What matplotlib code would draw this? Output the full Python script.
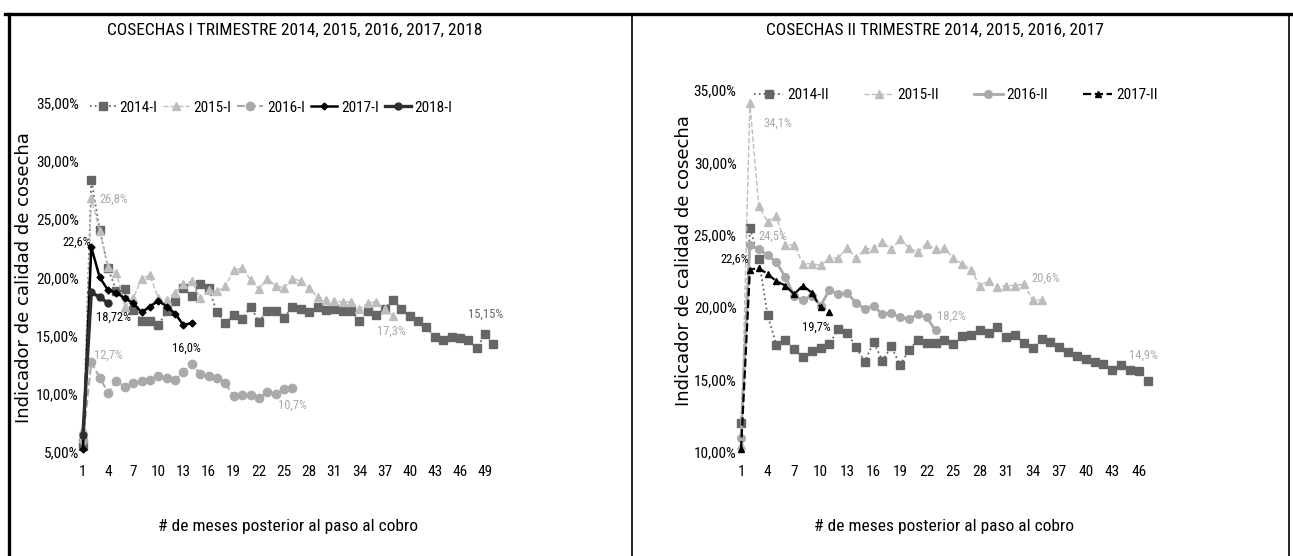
import matplotlib
matplotlib.use("Agg")
import matplotlib.pyplot as plt
from matplotlib import font_manager
from matplotlib.lines import Line2D
from matplotlib.ticker import FuncFormatter, FixedLocator

# pick a narrow font if there is one (Calibri-like look)
def pick_font(names):
    for n in names:
        try:
            font_manager.findfont(n, fallback_to_default=False)
            return n
        except Exception:
            pass
    return "DejaVu Sans"

NARROW = pick_font(["Liberation Sans Narrow", "Roboto Condensed", "DejaVu Sans Condensed", "Liberation Sans"])
plt.rcParams["font.family"] = [NARROW, "DejaVu Sans"]

# ---------------- data: I trimestre ----------------
s2014_I = [5.5, 28.4, 24.1, 20.8, 18.8, 19.0, 17.2, 16.3, 16.3, 15.9,
           17.1, 18.0, 19.1, 18.4, 19.4, 19.1, 17.0, 16.1, 16.8, 16.4,
           17.5, 16.2, 17.1, 17.1, 16.5, 17.5, 17.3, 17.0, 17.5, 17.2,
           17.3, 17.1, 17.1, 16.3, 17.1, 16.8, 17.3, 18.1, 17.3, 16.7,
           16.3, 15.7, 14.9, 14.6, 14.9, 14.8, 14.6, 13.9, 15.15, 14.3]
s2015_I = [7.0, 26.8, 24.0, 20.9, 20.4, 17.5, 18.2, 19.9, 20.2, 18.2,
           18.1, 18.7, 19.4, 19.7, 18.2, 18.9, 18.8, 19.3, 20.6, 20.8,
           19.8, 19.0, 19.9, 19.3, 19.1, 19.9, 19.7, 19.1, 18.3, 18.1,
           18.0, 17.9, 17.9, 17.3, 17.8, 17.9, 17.3, 16.7]
s2016_I = [6.0, 12.7, 11.4, 10.1, 11.1, 10.6, 10.9, 11.1, 11.2, 11.5,
           11.4, 11.2, 11.9, 12.6, 11.7, 11.5, 11.4, 10.9, 9.8, 9.9,
           9.9, 9.6, 10.2, 10.0, 10.4, 10.5]
s2017_I = [5.3, 22.6, 20.0, 18.9, 18.7, 18.2, 17.8, 17.0, 17.5, 18.0,
           17.5, 16.9, 15.9, 16.1]
s2018_I = [6.5, 18.72, 18.3, 17.8]

# ---------------- data: II trimestre ----------------
s2014_II = [12.0, 25.5, 23.35, 19.45, 17.4, 17.75, 17.1, 16.55, 16.95, 17.2,
            17.45, 18.5, 18.25, 17.25, 16.25, 17.6, 16.3, 17.3, 16.0, 17.05,
            17.75, 17.5, 17.55, 17.75, 17.45, 18.0, 18.1, 18.4, 18.25, 18.65,
            17.95, 18.1, 17.5, 17.2, 17.8, 17.6, 17.25, 16.9, 16.6, 16.4,
            16.2, 16.1, 15.7, 16.0, 15.7, 15.6, 14.9]
s2015_II = [10.5, 34.1, 27.0, 25.9, 26.3, 24.3, 24.3, 23.0, 23.0, 22.9,
            23.4, 23.4, 24.1, 23.4, 24.0, 24.1, 24.5, 24.0, 24.7, 24.1,
            23.8, 24.4, 24.0, 24.1, 23.4, 23.0, 22.6, 21.5, 21.8, 21.4,
            21.5, 21.5, 21.6, 20.5, 20.5]
s2016_II = [11.0, 24.3, 24.0, 23.6, 23.1, 22.1, 20.8, 20.5, 20.8, 20.1,
            21.2, 20.9, 21.0, 20.3, 19.9, 20.1, 19.5, 19.6, 19.3, 19.2,
            19.5, 19.3, 18.4]
s2017_II = [10.2, 22.6, 22.7, 22.3, 21.8, 21.5, 20.9, 21.5, 21.0, 20.0, 19.7]

ticks_I = list(range(1, 50, 3))
ticks_II = list(range(1, 47, 3))
title_I = "COSECHAS I TRIMESTRE 2014, 2015, 2016, 2017, 2018"
title_II = "COSECHAS II TRIMESTRE 2014, 2015, 2016, 2017"
xlab = "# de meses posterior al paso al cobro"
ylab = "Indicador de calidad de cosecha"

DARK = "#666666"
LIGHT = "#bdbdbd"
MID = "#a9a9a9"

W, H = 1293, 556
fig = plt.figure(figsize=(W / 100, H / 100), dpi=100)


def months(s):
    return list(range(1, len(s) + 1))


def style_axes(ax, ticks, ylo, yhi, ylab_x, ylab_y, xlab_y):
    ax.set_ylim(ylo, yhi)
    ax.yaxis.set_major_locator(FixedLocator(range(ylo, yhi + 1, 5)))
    ax.yaxis.set_major_formatter(FuncFormatter(lambda v, p: f"{v:.2f}%".replace(".", ",")))
    ax.set_xticks(ticks)
    for sp in ax.spines.values():
        sp.set_visible(False)
    ax.tick_params(axis="y", length=0, labelsize=11, pad=0)
    ax.tick_params(axis="x", length=0, labelsize=11, pad=9)
    ax.set_xlabel(xlab, fontsize=12.5)
    ax.xaxis.set_label_coords(0.5, xlab_y)
    ax.set_ylabel(ylab, fontsize=13, family="DejaVu Sans")
    ax.yaxis.set_label_coords(ylab_x, ylab_y)


# ---------- left chart ----------
axL = fig.add_axes([0.0609, 0.187, 0.324, 0.628])
axL.plot(months(s2014_I), s2014_I, ls=":", color=DARK, lw=1.3, marker="s", ms=6, label="2014-I", clip_on=False)
axL.plot(months(s2015_I), s2015_I, ls="--", color=LIGHT, lw=1, marker="^", ms=6, label="2015-I", clip_on=False)
axL.plot(months(s2016_I), s2016_I, ls="--", color=MID, lw=1.5, marker="o", ms=6, label="2016-I", clip_on=False)
axL.plot(months(s2017_I), s2017_I, ls="-", color="black", lw=1.8, marker="D", ms=3.5, label="2017-I", clip_on=False)
axL.plot(months(s2018_I), s2018_I, ls="-", color="#2e2e2e", lw=2.4, marker="o", ms=5, label="2018-I", clip_on=False)
axL.set_xlim(0.5, 50.5)
style_axes(axL, ticks_I, 5, 35, -0.108, 0.50, -0.192)
axL.legend(loc="center", bbox_to_anchor=(0.459, 0.986), ncol=5, frameon=False,
           fontsize=11, handlelength=1.7, columnspacing=0.4, handletextpad=0.25)
axL.text(3.0, 26.7, "26,8%", color=MID, fontsize=9, va="center")
axL.text(1.9, 23.0, "22,6%", color="black", fontsize=9, ha="right", va="center")
axL.text(2.6, 16.6, "18,72%", color="black", fontsize=9, va="center")
axL.text(13.4, 13.9, "16,0%", color="black", fontsize=9, ha="center", va="center")
axL.text(2.3, 13.3, "12,7%", color=MID, fontsize=9, va="center")
axL.text(26.0, 9.0, "10,7%", color=MID, fontsize=9, ha="center", va="center")
axL.text(37.8, 15.4, "17,3%", color=MID, fontsize=9, ha="center", va="center")
axL.text(49.0, 16.85, "15,15%", color=DARK, fontsize=9, ha="center", va="center")

# ---------- right chart ----------
axR = fig.add_axes([0.5697, 0.187, 0.3213, 0.651])
axR.plot(months(s2014_II), s2014_II, ls=":", color=DARK, lw=1.3, marker="s", ms=6, label="2014-II", clip_on=False)
axR.plot(months(s2015_II), s2015_II, ls="--", color=LIGHT, lw=1, marker="^", ms=6, label="2015-II", clip_on=False)
axR.plot(months(s2016_II), s2016_II, ls="-", color=MID, lw=2, marker="o", ms=5.5, label="2016-II", clip_on=False)
axR.plot(months(s2017_II), s2017_II, ls="--", color="black", lw=1.6, marker="^", ms=4, label="2017-II", clip_on=False)
axR.set_xlim(0.5, 47.5)
style_axes(axR, ticks_II, 10, 35, -0.104, 0.53, -0.185)
axR.legend(loc="center", bbox_to_anchor=(0.528, 0.986), ncol=4, frameon=False,
           fontsize=11, handlelength=1.9, columnspacing=2.3, handletextpad=0.25)
axR.text(3.5, 32.7, "34,1%", color=MID, fontsize=9, va="center")
axR.text(3.0, 24.9, "24,5%", color=MID, fontsize=9, va="center")
axR.text(1.9, 23.3, "22,6%", color="black", fontsize=9, ha="right", va="center")
axR.text(9.5, 18.6, "19,7%", color="black", fontsize=9, ha="center", va="center")
axR.text(23.2, 19.4, "18,2%", color=MID, fontsize=9, va="center")
axR.text(33.8, 22.0, "20,6%", color=MID, fontsize=9, va="center")
axR.text(46.5, 16.7, "14,9%", color=MID, fontsize=9, ha="center", va="center")

# titles
fig.text(0.228, 0.946, title_I, fontsize=12.5, ha="center", va="center")
fig.text(0.723, 0.946, title_II, fontsize=12.5, ha="center", va="center")

# scanned page frame lines
frame = dict(color="black", lw=2.4, transform=fig.transFigure)
fig.add_artist(Line2D([0.004, 1.0], [0.975, 0.975], **frame))
fig.add_artist(Line2D([0.007, 0.007], [0.0, 0.975], **frame))
fig.add_artist(Line2D([0.489, 0.489], [0.0, 0.975], lw=1.2, color="black", transform=fig.transFigure))
fig.add_artist(Line2D([0.997, 0.997], [0.0, 0.975], lw=1.2, color="black", transform=fig.transFigure))

fig.savefig("out.png", dpi=100)
